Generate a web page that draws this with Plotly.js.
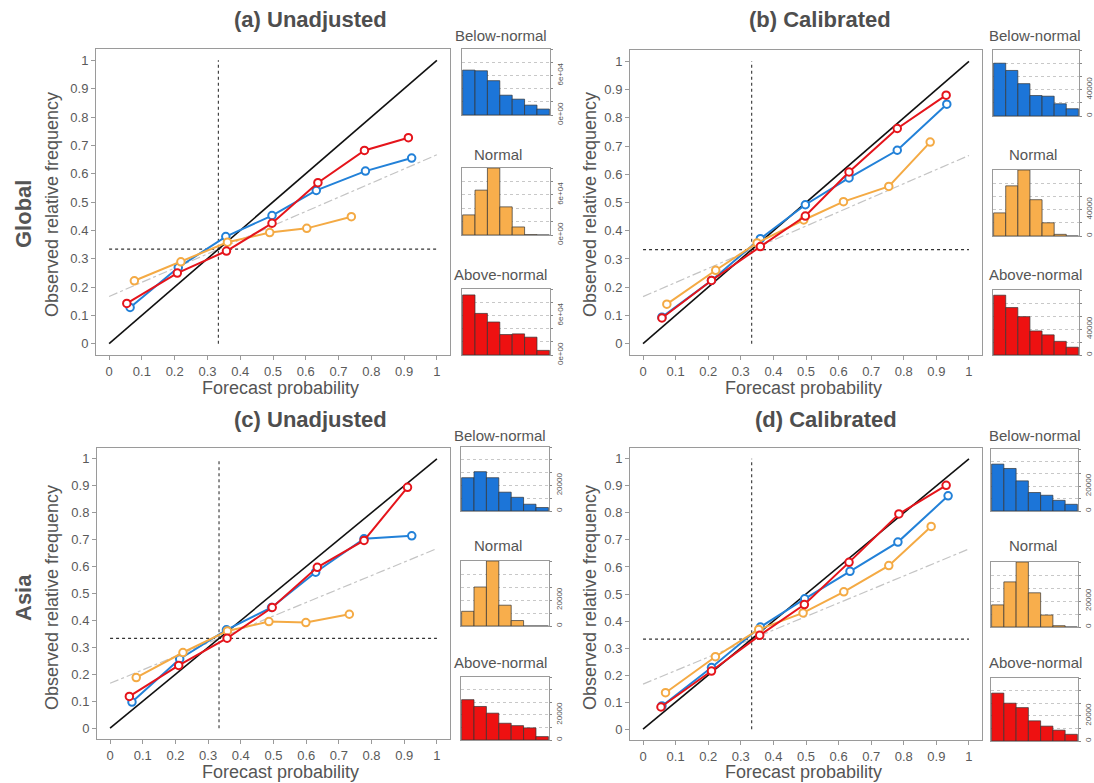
<!DOCTYPE html>
<html><head><meta charset="utf-8">
<script src="https://cdn.plot.ly/plotly-3.0.1.min.js"></script>
<style>html,body{margin:0;padding:0;background:#fff}</style>
</head><body><div id="chart" style="width:1094px;height:783px"></div>
<script>
// ---------- data ----------
const probTicks = [0, 0.1, 0.2, 0.3, 0.4, 0.5, 0.6, 0.7, 0.8, 0.9, 1];
const probTickText = ["0", "0.1", "0.2", "0.3", "0.4", "0.5", "0.6", "0.7", "0.8", "0.9", "1"];
const perfectX = [0, 1];
const perfectY = [0, 1];
const noSkillY = [1/6, 2/3];
const climX = [0, 1];
const climY = [1/3, 1/3];
const climVX = [1/3, 1/3];
const climVY = [0, 1];

// (a) Global, unadjusted
const a_belowX  = [0.064, 0.211, 0.356, 0.497, 0.632, 0.782, 0.923];
const a_belowY  = [0.128, 0.269, 0.378, 0.452, 0.541, 0.609, 0.655];
const a_normalX = [0.077, 0.219, 0.361, 0.490, 0.603, 0.739];
const a_normalY = [0.222, 0.289, 0.358, 0.392, 0.407, 0.448];
const a_aboveX  = [0.054, 0.208, 0.358, 0.497, 0.637, 0.779, 0.913];
const a_aboveY  = [0.142, 0.249, 0.327, 0.425, 0.568, 0.682, 0.727];
// (b) Global, calibrated
const b_belowX  = [0.058, 0.210, 0.360, 0.498, 0.632, 0.780, 0.932];
const b_belowY  = [0.094, 0.224, 0.372, 0.492, 0.587, 0.685, 0.848];
const b_normalX = [0.073, 0.223, 0.350, 0.493, 0.615, 0.754, 0.881];
const b_normalY = [0.140, 0.260, 0.357, 0.438, 0.503, 0.557, 0.714];
const b_aboveX  = [0.058, 0.210, 0.360, 0.498, 0.632, 0.780, 0.930];
const b_aboveY  = [0.091, 0.224, 0.344, 0.452, 0.608, 0.762, 0.880];
// (c) Asia, unadjusted
const c_belowX  = [0.067, 0.213, 0.356, 0.494, 0.629, 0.777, 0.923];
const c_belowY  = [0.097, 0.257, 0.365, 0.448, 0.579, 0.703, 0.714];
const c_normalX = [0.080, 0.223, 0.359, 0.486, 0.599, 0.732];
const c_normalY = [0.188, 0.281, 0.361, 0.396, 0.392, 0.423];
const c_aboveX  = [0.059, 0.210, 0.358, 0.496, 0.634, 0.777, 0.910];
const c_aboveY  = [0.118, 0.233, 0.334, 0.448, 0.597, 0.697, 0.894];
// (d) Asia, calibrated
const d_belowX  = [0.058, 0.210, 0.360, 0.496, 0.635, 0.782, 0.936];
const d_belowY  = [0.086, 0.228, 0.378, 0.482, 0.584, 0.692, 0.863];
const d_normalX = [0.069, 0.222, 0.355, 0.491, 0.616, 0.754, 0.884];
const d_normalY = [0.135, 0.268, 0.369, 0.430, 0.508, 0.605, 0.750];
const d_aboveX  = [0.055, 0.210, 0.358, 0.495, 0.632, 0.785, 0.930];
const d_aboveY  = [0.082, 0.215, 0.347, 0.461, 0.617, 0.796, 0.902];

// histogram bins and counts
const histBins = [1, 2, 3, 4, 5, 6, 7];
const a_histBelow  = [68000, 67000, 52000, 30000, 24000, 15000, 9000];
const a_histNormal = [30000, 67000, 100000, 42000, 12000, 500, 0];
const a_histAbove  = [91000, 63000, 50000, 31000, 32000, 27000, 7000];
const b_histBelow  = [80000, 69000, 49000, 31000, 30000, 18500, 11000];
const b_histNormal = [35000, 76000, 100000, 55000, 20000, 2500, 0];
const b_histAbove  = [92000, 73000, 59000, 37000, 31000, 21000, 12000];
const c_histBelow  = [26000, 30700, 26000, 14700, 10700, 5300, 2700];
const c_histNormal = [11300, 30000, 50000, 16000, 4200, 0, 0];
const c_histAbove  = [32000, 26600, 21300, 13300, 11400, 9600, 2700];
const d_histBelow  = [37800, 34300, 24300, 14900, 12700, 8600, 5400];
const d_histNormal = [17000, 34700, 50000, 26300, 9200, 1000, 0];
const d_histAbove  = [38000, 30000, 26500, 16000, 11800, 8600, 5300];

const histTicksBig = [0, 20000, 40000, 60000, 80000, 100000];
const histTextA = ["0e+00", "", "", "6e+04", "", ""];
const histTextB = ["0", "", "40000", "", "", ""];
const histTicksSmall = [0, 10000, 20000, 30000, 40000, 50000];
const histTextCD = ["0", "", "20000", "", "", ""];

// ---------- styling ----------
const W = 1094, H = 783;
const FONT = "Liberation Sans, Arial, Helvetica, sans-serif";
const COL = {below: "#2281D8", normal: "#F4AA44", above: "#E5141B"};
const BAR = {below: "#1C75D8", normal: "#F8AE4C", above: "#EE1111"};
const xd = (l, r) => [l / W, r / W];
const yd = (t, b) => [1 - b / H, 1 - t / H];

const layout = {
  width: W, height: H,
  margin: {l: 0, r: 0, t: 0, b: 0},
  paper_bgcolor: "#fff", plot_bgcolor: "#fff",
  showlegend: false, bargap: 0,
  font: {family: FONT, color: "#555"},
  annotations: []
};
const traces = [];

const panels = [
  {id: "a", n: 1, title: "(a) Unadjusted", xdom: [96, 450], ydom: [49, 355], tx: 310, ty: 19,
   ytitle: [52, 205], xtitle: [280, 388],
   data: [[a_belowX, a_belowY, "below"], [a_normalX, a_normalY, "normal"], [a_aboveX, a_aboveY, "above"]]},
  {id: "b", n: 2, title: "(b) Calibrated", xdom: [630, 982], ydom: [50, 355], tx: 820, ty: 19,
   ytitle: [590, 205], xtitle: [803, 388],
   data: [[b_belowX, b_belowY, "below"], [b_normalX, b_normalY, "normal"], [b_aboveX, b_aboveY, "above"]]},
  {id: "c", n: 3, title: "(c) Unadjusted", xdom: [97, 450], ydom: [448, 739], tx: 310, ty: 419,
   ytitle: [52, 598], xtitle: [280, 772],
   data: [[c_belowX, c_belowY, "below"], [c_normalX, c_normalY, "normal"], [c_aboveX, c_aboveY, "above"]]},
  {id: "d", n: 4, title: "(d) Calibrated", xdom: [630, 982], ydom: [448, 740], tx: 826, ty: 419,
   ytitle: [590, 598], xtitle: [803, 772],
   data: [[d_belowX, d_belowY, "below"], [d_normalX, d_normalY, "normal"], [d_aboveX, d_aboveY, "above"]]}
];

function ann(text, px, py, size, opts) {
  layout.annotations.push(Object.assign({
    text: text, x: px / W, y: 1 - py / H, xref: "paper", yref: "paper",
    xanchor: "center", yanchor: "middle", showarrow: false,
    font: {family: FONT, size: size, color: "#555"}
  }, opts || {}));
}

panels.forEach(p => {
  const xa = "xaxis" + (p.n === 1 ? "" : p.n), ya = "yaxis" + (p.n === 1 ? "" : p.n);
  const xr = "x" + (p.n === 1 ? "" : p.n), yr = "y" + (p.n === 1 ? "" : p.n);
  const axBase = {
    range: [-0.04, 1.04], showline: true, linecolor: "#9a9a9a", linewidth: 1, mirror: true,
    ticks: "outside", ticklen: 4, tickcolor: "#9a9a9a", tickwidth: 1,
    tickvals: probTicks, ticktext: probTickText, tickfont: {size: 13, color: "#5a5a5a", family: FONT},
    showgrid: false, zeroline: false, fixedrange: true
  };
  layout[xa] = Object.assign({}, axBase, {domain: xd(p.xdom[0], p.xdom[1]), anchor: yr});
  layout[ya] = Object.assign({}, axBase, {domain: yd(p.ydom[0], p.ydom[1]), anchor: xr});

  // reference lines
  traces.push({x: perfectX, y: noSkillY, xaxis: xr, yaxis: yr, mode: "lines",
    line: {color: "#c4c4c4", width: 1.2, dash: "dashdot"}, hoverinfo: "skip"});
  traces.push({x: climX, y: climY, xaxis: xr, yaxis: yr, mode: "lines",
    line: {color: "#333", width: 1.3, dash: "dot"}, hoverinfo: "skip"});
  traces.push({x: climVX, y: climVY, xaxis: xr, yaxis: yr, mode: "lines",
    line: {color: "#333", width: 1.1, dash: "dot"}, hoverinfo: "skip"});
  traces.push({x: perfectX, y: perfectY, xaxis: xr, yaxis: yr, mode: "lines",
    line: {color: "#111", width: 1.6}, hoverinfo: "skip"});

  p.data.forEach(d => {
    traces.push({x: d[0], y: d[1], xaxis: xr, yaxis: yr, mode: "lines+markers",
      line: {color: COL[d[2]], width: 2},
      marker: {symbol: "circle", size: 7.5, color: "#fff", line: {color: COL[d[2]], width: 2}}});
  });

  ann("<b>" + p.title + "</b>", p.tx, p.ty, 22, {font: {family: FONT, size: 22, color: "#4e4e4e"}});
  ann("Observed relative frequency", p.ytitle[0], p.ytitle[1], 18, {textangle: -90});
  ann("Forecast probability", p.xtitle[0], p.xtitle[1], 18);
});

ann("<b>Global</b>", 23, 214, 22, {textangle: -90, font: {family: FONT, size: 22, color: "#555"}});
ann("<b>Asia</b>", 23, 598, 22, {textangle: -90, font: {family: FONT, size: 22, color: "#555"}});

// histograms
const hists = [
  {counts: a_histBelow,  kind: "below",  x: [462, 550], y: [49, 115],  t: [501, 35],  rng: 100000, tv: histTicksBig, tt: histTextA, lbl: "Below-normal"},
  {counts: a_histNormal, kind: "normal", x: [462, 550], y: [168, 235], t: [498, 155], rng: 100000, tv: histTicksBig, tt: histTextA, lbl: "Normal"},
  {counts: a_histAbove,  kind: "above",  x: [462, 550], y: [289, 355], t: [500, 274], rng: 100000, tv: histTicksBig, tt: histTextA, lbl: "Above-normal"},
  {counts: b_histBelow,  kind: "below",  x: [993, 1079], y: [50, 116],  t: [1035, 35],  rng: 100000, tv: histTicksBig, tt: histTextB, lbl: "Below-normal"},
  {counts: b_histNormal, kind: "normal", x: [993, 1079], y: [170, 236], t: [1033, 155], rng: 100000, tv: histTicksBig, tt: histTextB, lbl: "Normal"},
  {counts: b_histAbove,  kind: "above",  x: [993, 1079], y: [290, 355], t: [1035, 274], rng: 100000, tv: histTicksBig, tt: histTextB, lbl: "Above-normal"},
  {counts: c_histBelow,  kind: "below",  x: [461, 549], y: [447, 511], t: [500, 435], rng: 50000, tv: histTicksSmall, tt: histTextCD, lbl: "Below-normal"},
  {counts: c_histNormal, kind: "normal", x: [461, 549], y: [561, 626], t: [498, 545], rng: 50000, tv: histTicksSmall, tt: histTextCD, lbl: "Normal"},
  {counts: c_histAbove,  kind: "above",  x: [461, 549], y: [677, 740], t: [500, 662], rng: 50000, tv: histTicksSmall, tt: histTextCD, lbl: "Above-normal"},
  {counts: d_histBelow,  kind: "below",  x: [991, 1078], y: [449, 511], t: [1035, 435], rng: 50000, tv: histTicksSmall, tt: histTextCD, lbl: "Below-normal"},
  {counts: d_histNormal, kind: "normal", x: [991, 1078], y: [562, 627], t: [1033, 545], rng: 50000, tv: histTicksSmall, tt: histTextCD, lbl: "Normal"},
  {counts: d_histAbove,  kind: "above",  x: [991, 1078], y: [678, 741], t: [1035, 662], rng: 50000, tv: histTicksSmall, tt: histTextCD, lbl: "Above-normal"}
];

hists.forEach((h, i) => {
  const n = 5 + i;
  const xr = "x" + n, yr = "y" + n;
  layout["xaxis" + n] = {domain: xd(h.x[0], h.x[1]), anchor: yr, range: [0.45, 7.55],
    showline: true, linecolor: "#9a9a9a", linewidth: 1, mirror: true, showticklabels: false,
    ticks: "", showgrid: false, zeroline: false, fixedrange: true};
  layout["yaxis" + n] = {domain: yd(h.y[0], h.y[1]), anchor: xr, range: [0, h.rng], side: "right",
    showline: true, linecolor: "#9a9a9a", linewidth: 1, mirror: true,
    ticks: "outside", ticklen: 2, tickcolor: "#888", tickvals: h.tv, ticktext: h.tt, tickangle: -90,
    tickfont: {size: 8, color: "#555", family: FONT}, ticklabelstandoff: 0,
    showgrid: true, gridcolor: "#c8c8c8", gridwidth: 1, griddash: "dot", zeroline: false, fixedrange: true};
  traces.push({type: "bar", x: histBins, y: h.counts, xaxis: xr, yaxis: yr, width: 1,
    marker: {color: BAR[h.kind], line: {color: "#333", width: 0.7}}, hoverinfo: "skip"});
  ann(h.lbl, h.t[0], h.t[1], 15);
});

Plotly.newPlot("chart", traces, layout, {staticPlot: true, displayModeBar: false});
</script>
</body></html>
